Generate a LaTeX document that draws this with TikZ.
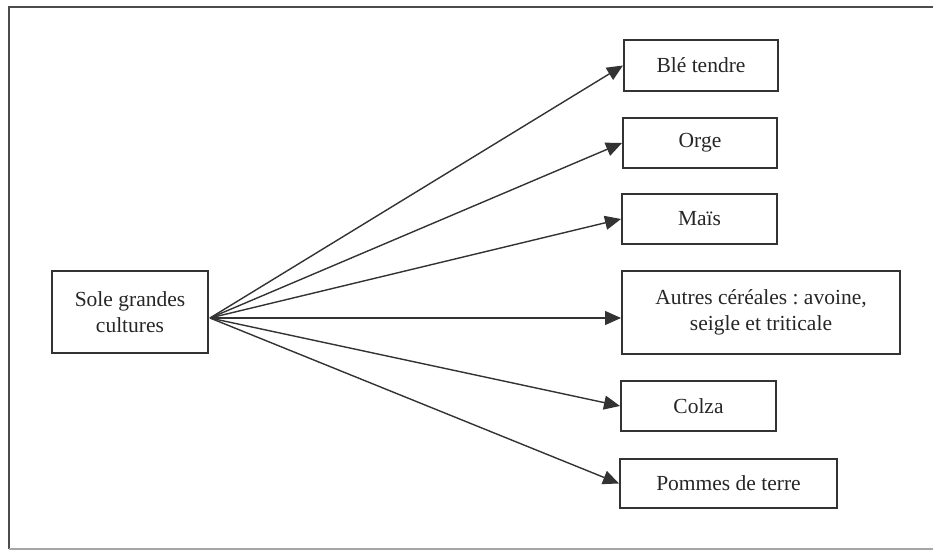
\documentclass[tikz,border=0pt]{standalone}
\usepackage{fontspec}
\setmainfont{Liberation Serif}
\usetikzlibrary{arrows.meta}
\frenchspacing
\begin{document}
\begin{tikzpicture}[x=0.5pt,y=-0.5pt,
  box/.style={draw=black!80, line width=1pt, rectangle, inner sep=0pt, align=center,
    font=\fontsize{10.75}{13}\selectfont\frenchspacing, text=black!85},
  arr/.style={draw=black!80, line width=0.7pt, -{Triangle[length=8pt,width=7pt]}, fill=black!80},
  frame/.style={line width=0.8pt}]
\useasboundingbox (0,0) rectangle (933,551);
\draw[frame, draw=black!70] (933,7) -- (9,7) -- (9,549);
\draw[frame, draw=black!35] (9,549) -- (933,549);
\node[box, minimum width=78pt, minimum height=41pt] (sole) at (130,312) {Sole grandes\\cultures};
\node[box, minimum width=77pt, minimum height=25.5pt] (ble) at (701,65.5) {Blé tendre};
\node[box, minimum width=77pt, minimum height=25pt] (orge) at (700,143) {Orge};
\node[box, minimum width=77.5pt, minimum height=25pt] (mais) at (699.5,219) {Maïs};
\node[box, minimum width=139pt, minimum height=41.5pt] (autres) at (761,312.5) {Autres céréales : avoine,\\seigle et triticale};
\node[box, minimum width=77.5pt, minimum height=25pt] (colza) at (698.5,406) {Colza};
\node[box, minimum width=108.5pt, minimum height=24.5pt] (pommes) at (728.5,483.5) {Pommes de terre};
\coordinate (o) at (210,318);
\draw[arr] (o) -- (ble.west);
\draw[arr] (o) -- (orge.west);
\draw[arr] (o) -- (mais.west);
\draw[arr] (o) -- (autres.west |- o);
\draw[arr] (o) -- (colza.west);
\draw[arr] (o) -- (pommes.west);
\end{tikzpicture}
\end{document}
